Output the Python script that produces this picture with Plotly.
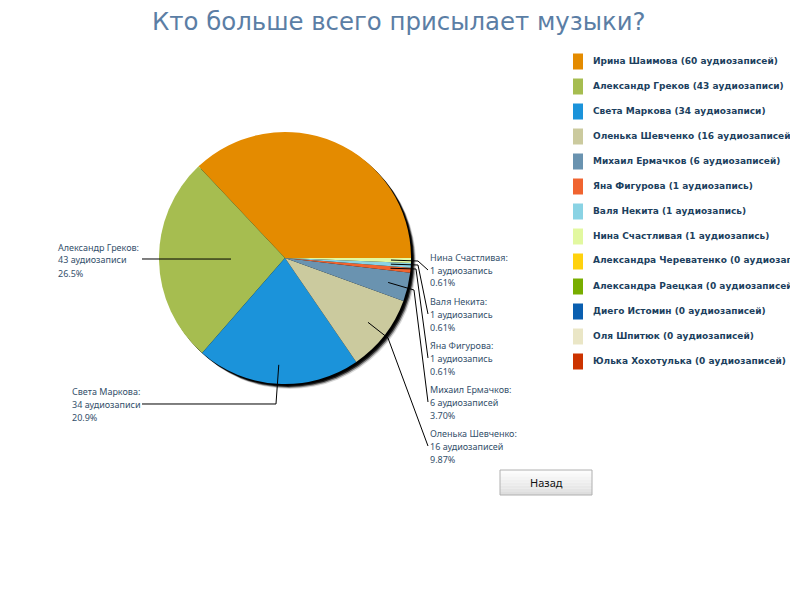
import numpy as np
import plotly.graph_objects as go

names = ["Ирина Шаимова", "Александр Греков", "Света Маркова", "Оленька Шевченко", "Михаил Ермачков",
         "Яна Фигурова", "Валя Некита", "Нина Счастливая", "Александра Череватенко", "Александра Раецкая",
         "Диего Истомин", "Оля Шпитюк", "Юлька Хохотулька"]
counts = [60, 43, 34, 16, 6, 1, 1, 1, 0, 0, 0, 0, 0]
words = ["аудиозаписей", "аудиозаписи", "аудиозаписи", "аудиозаписей", "аудиозаписей", "аудиозапись", "аудиозапись",
         "аудиозапись", "аудиозаписей", "аудиозаписей", "аудиозаписей", "аудиозаписей", "аудиозаписей"]
percents = ["37.0%", "26.5%", "20.9%", "9.87%", "3.70%", "0.61%", "0.61%", "0.61%"]
colors = ["#E48B00", "#A6BD50", "#1B93DA", "#CBCA9E", "#6A93B0", "#F06430", "#8AD3E4", "#E2F8A0",
          "#FFD20E", "#78AD00", "#0A5FB0", "#EAE6C6", "#CC3300"]

# page geometry, in browser pixels (the body has an 8px margin)
PAD = 8
W = 782
H = 584
CX, CY, R = 285, 258, 126
TEXT = "#34506B"


def px(x):
    return (x - PAD) / W


def py(y):
    return 1 - (y - PAD) / H


def pie_domain(dx=0, dy=0):
    return dict(x=[px(CX + dx - R), px(CX + dx + R)], y=[py(CY + dy + R), py(CY + dy - R)])


vals = np.array(counts, dtype=float)
shares = vals / vals.sum() * 360

fig = go.Figure()

# soft shadow under the pie
for off, op in [(5, 0.15), (4, 0.4), (3, 0.75), (2, 1)]:
    fig.add_trace(go.Pie(values=[1], labels=["тень"], marker=dict(colors=["#000000"]), opacity=op, domain=pie_domain(off, off),
                         textinfo="none", hoverinfo="skip", showlegend=False, sort=False))

# first slice has to start at 3 o'clock and run counterclockwise
fig.add_trace(go.Pie(values=counts, labels=names, marker=dict(colors=colors, line=dict(width=0)), domain=pie_domain(),
                     sort=False, direction="counterclockwise", rotation=90 - shares[0], textinfo="none", showlegend=False))

shapes = []

# leader lines start inside the slice at its middle angle
mids = np.radians(np.cumsum(shares) - shares / 2)
reach = [None, 54, 107, 105, 106, 106, 106, 106]
elbows = [None, [(142, 259)], [(276, 404), (142, 404)], [(388, 338), (428, 446)], [(414, 290), (428, 402)],
          [(416, 269), (428, 358)], [(418, 265), (428, 314)], [(418, 261), (428, 270)]]
for i in range(1, 8):
    pts = [(CX + reach[i] * np.cos(mids[i]), CY - reach[i] * np.sin(mids[i]))] + elbows[i]
    path = "M " + " L ".join(f"{px(a):.5f},{py(b):.5f}" for a, b in pts)
    shapes.append(dict(type="path", path=path, xref="paper", yref="paper", line=dict(color="#000000", width=1)))

annotations = [dict(x=px(399), y=py(22), xref="paper", yref="paper", text="Кто больше всего присылает музыки?", showarrow=False,
                    xanchor="center", yanchor="middle", font=dict(family="DejaVu Sans", size=24.4, color="#5B7EA5"))]

# callout text beside the pie, three lines 13px apart
label_pos = [None, (56, 260), (70, 404), (428, 446), (428, 402), (428, 358), (428, 314), (428, 270)]
for i in range(1, 8):
    lines = [f"{names[i]}:", f"{counts[i]} {words[i]}", percents[i]]
    for k, line in enumerate(lines):
        annotations.append(dict(x=px(label_pos[i][0]), y=py(label_pos[i][1] + 13 * (k - 1)), xref="paper", yref="paper", text=line,
                                showarrow=False, xanchor="left", yanchor="middle", font=dict(family="Noto Sans", size=9, color=TEXT)))

# legend on the right, drawn by hand for its 25px rows
for i, name in enumerate(names):
    y = 61.5 + 25 * i
    shapes.append(dict(type="rect", x0=px(573), x1=px(583), y0=py(y - 8), y1=py(y + 8), xref="paper", yref="paper",
                       fillcolor=colors[i], line=dict(width=0)))
    annotations.append(dict(x=px(590.5), y=py(y - 1), xref="paper", yref="paper", text=f"<b>{name} ({counts[i]} {words[i]})</b>",
                            showarrow=False, xanchor="left", yanchor="middle", font=dict(family="DejaVu Sans", size=9, color="#1C3F5E")))

# back button
band = np.linspace(470, 495, 9)
greys = ["#FCFCFC", "#F8F8F8", "#F4F4F4", "#F0F0F0", "#ECECEC", "#E8E8E8", "#E4E4E4", "#DEDEDE"]
for j, c in enumerate(greys):
    shapes.append(dict(type="rect", x0=px(500), x1=px(592), y0=py(band[j]), y1=py(band[j + 1]), xref="paper", yref="paper",
                       fillcolor=c, line=dict(width=0)))
shapes.append(dict(type="rect", x0=px(500), x1=px(592), y0=py(470), y1=py(495), xref="paper", yref="paper",
                   line=dict(color="#B0B0B0", width=1)))
annotations.append(dict(x=px(546), y=py(482), xref="paper", yref="paper", text="Назад", showarrow=False, xanchor="center", yanchor="middle",
                        font=dict(family="Noto Sans", size=11, color="#111111")))

fig.update_layout(
    width=W, height=H, margin=dict(l=0, r=0, t=0, b=0), paper_bgcolor="#FFFFFF",
    showlegend=False, annotations=annotations, shapes=shapes,
)
fig.write_html("out.html")
